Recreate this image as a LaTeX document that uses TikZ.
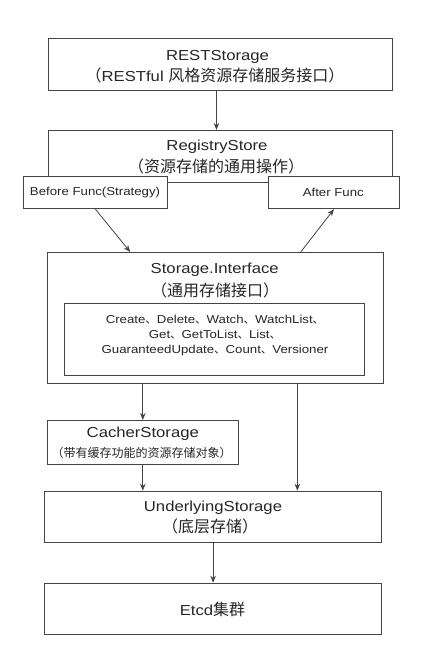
\documentclass[tikz,border=0pt]{standalone}
\usepackage{fontspec}
\setmainfont{Liberation Sans}[FakeStretch=1.15]
\newfontfamily\cjk{Noto Sans CJK SC}
\usetikzlibrary{arrows.meta,calc}
\definecolor{linec}{HTML}{454545}
\definecolor{textc}{HTML}{262626}
\newcommand\zh[1]{{\cjk #1}}
\newcommand\bigen{\fontsize{14.5pt}{18pt}\selectfont}
\newcommand\bigzh{\fontsize{16pt}{18pt}\selectfont}
\newcommand\smlen{\fontsize{11.5pt}{15pt}\selectfont}
\begin{document}
\begin{tikzpicture}[x=1pt,y=-1pt,
  box/.style={draw=linec, line width=0.9pt, fill=white, inner sep=0pt, anchor=north west},
  lbl/.style={text=textc, inner sep=0pt, align=center},
  arr/.style={draw=linec, line width=0.8pt, -{Stealth[length=7pt,width=5.5pt]}}]
\useasboundingbox[fill=white] (0,0) rectangle (426,648);
% boxes
\node[box, minimum width=344pt, minimum height=52pt] (rest) at (48,38) {};
\node[box, minimum width=344pt, minimum height=52pt] (reg) at (48,130) {};
\node[box, minimum width=143.4pt, minimum height=32.6pt] (before) at (23.3,175.7) {};
\node[box, minimum width=131pt, minimum height=32.6pt] (after) at (268,175.7) {};
\node[box, minimum width=336pt, minimum height=131.3pt] (si) at (46.7,252) {};
\node[box, minimum width=300.3pt, minimum height=72.3pt] (inner) at (64,302.7) {};
\node[box, minimum width=191.3pt, minimum height=44pt] (cacher) at (46.7,420) {};
\node[box, minimum width=336.7pt, minimum height=51.6pt] (under) at (44.3,490.7) {};
\node[box, minimum width=336.7pt, minimum height=51.3pt] (etcd) at (44.3,582.7) {};
% texts
\node[lbl] (t1a) at (217.5,56.7) {\bigen RESTStorage};
\node[lbl] (t1b) at (215,75) {\bigzh\zh{（}\bigen RESTful \bigzh\zh{风格资源存储服务接口）}};
\node[lbl] (t2a) at (217,146.7) {\bigen RegistryStore};
\node[lbl] (t2b) at (216,166.7) {\bigzh\zh{（资源存储的通用操作）}};
\node[lbl] (t3) at (95,192.3) {\smlen Before Func(Strategy)};
\node[lbl] (t4) at (333.3,192.3) {\smlen After Func};
\node[lbl] (t5a) at (214.7,270) {\bigen Storage.Interface};
\node[lbl] (t5b) at (215,290) {\bigzh\zh{（通用存储接口）}};
\node[lbl, font=\smlen] (t6) at (215,335.5) {Create\zh{、}Delete\zh{、}Watch\zh{、}WatchList\zh{、}\\
  Get\zh{、}GetToList\zh{、}List\zh{、}\\
  GuaranteedUpdate\zh{、}Count\zh{、}Versioner};
\node[lbl] (t7a) at (142.8,434) {\bigen CacherStorage};
\node[lbl] (t7b) at (141.5,453.3) {\fontsize{12pt}{14pt}\selectfont\zh{（带有缓存功能的资源存储对象）}};
\node[lbl] (t8a) at (213,507.3) {\bigen UnderlyingStorage};
\node[lbl] (t8b) at (210,526.7) {\bigzh\zh{（底层存储）}};
\node[lbl] (t9) at (212.5,609) {\bigen Etcd\bigzh\zh{集群}};
% connectors
\coordinate (sr) at ($(si.south west)!0.744!(si.south east)$);
\coordinate (st) at ($(si.north west)!0.754!(si.north east)$);
\coordinate (sl) at ($(si.north west)!0.248!(si.north east)$);
\draw[arr] ([xshift=-4pt]rest.south) -- ([xshift=-4pt]rest.south |- reg.north);
\draw[arr] (before.south) -- (sl);
\draw[arr] (st) -- (after.south);
\draw[arr] (si.south -| cacher.north) -- (cacher.north);
\draw[arr] (sr) -- (sr |- under.north);
\draw[arr] (cacher.south) -- (cacher.south |- under.north);
\draw[arr] (under.south) -- (etcd.north);
\end{tikzpicture}
\end{document}
